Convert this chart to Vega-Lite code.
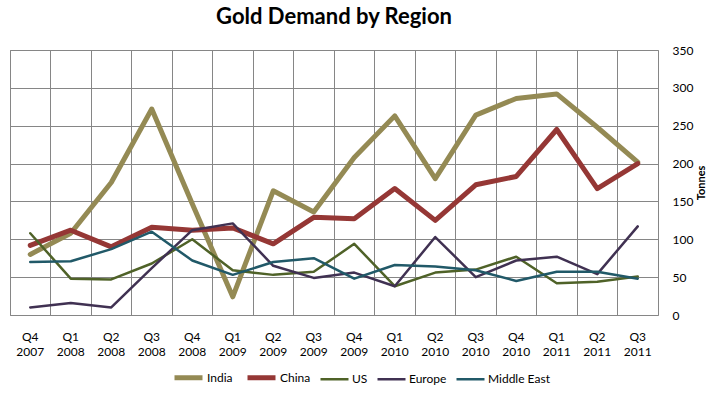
{
  "$schema": "https://vega.github.io/schema/vega-lite/v6.json",
  "width": 648,
  "height": 265,
  "autosize": {"type": "none"},
  "padding": {"left": 10, "top": 50, "right": 61, "bottom": 78},
  "background": "white",
  "title": {"text": "Gold Demand by Region", "font": "Lato", "fontSize": 22, "fontWeight": "bold", "color": "#000000", "anchor": "middle", "offset": 15},
  "config": {
    "font": "Lato",
    "view": {"stroke": "#868686", "strokeWidth": 1}
  },
  "data": {"values": [
    {"q":"Q4 2007","region":"India","v":80},{"q":"Q1 2008","region":"India","v":108},{"q":"Q2 2008","region":"India","v":175},{"q":"Q3 2008","region":"India","v":272},{"q":"Q4 2008","region":"India","v":147},{"q":"Q1 2009","region":"India","v":24},{"q":"Q2 2009","region":"India","v":164},{"q":"Q3 2009","region":"India","v":136},{"q":"Q4 2009","region":"India","v":208},{"q":"Q1 2010","region":"India","v":263},{"q":"Q2 2010","region":"India","v":180},{"q":"Q3 2010","region":"India","v":264},{"q":"Q4 2010","region":"India","v":286},{"q":"Q1 2011","region":"India","v":292},{"q":"Q2 2011","region":"India","v":248},{"q":"Q3 2011","region":"India","v":202},
    {"q":"Q4 2007","region":"China","v":92},{"q":"Q1 2008","region":"China","v":112},{"q":"Q2 2008","region":"China","v":90},{"q":"Q3 2008","region":"China","v":116},{"q":"Q4 2008","region":"China","v":112},{"q":"Q1 2009","region":"China","v":115},{"q":"Q2 2009","region":"China","v":94},{"q":"Q3 2009","region":"China","v":129},{"q":"Q4 2009","region":"China","v":127},{"q":"Q1 2010","region":"China","v":167},{"q":"Q2 2010","region":"China","v":125},{"q":"Q3 2010","region":"China","v":172},{"q":"Q4 2010","region":"China","v":183},{"q":"Q1 2011","region":"China","v":245},{"q":"Q2 2011","region":"China","v":167},{"q":"Q3 2011","region":"China","v":200},
    {"q":"Q4 2007","region":"US","v":108},{"q":"Q1 2008","region":"US","v":48},{"q":"Q2 2008","region":"US","v":47},{"q":"Q3 2008","region":"US","v":68},{"q":"Q4 2008","region":"US","v":100},{"q":"Q1 2009","region":"US","v":59},{"q":"Q2 2009","region":"US","v":53},{"q":"Q3 2009","region":"US","v":57},{"q":"Q4 2009","region":"US","v":94},{"q":"Q1 2010","region":"US","v":38},{"q":"Q2 2010","region":"US","v":56},{"q":"Q3 2010","region":"US","v":60},{"q":"Q4 2010","region":"US","v":77},{"q":"Q1 2011","region":"US","v":42},{"q":"Q2 2011","region":"US","v":44},{"q":"Q3 2011","region":"US","v":51},
    {"q":"Q4 2007","region":"Europe","v":10},{"q":"Q1 2008","region":"Europe","v":16},{"q":"Q2 2008","region":"Europe","v":10},{"q":"Q3 2008","region":"Europe","v":62},{"q":"Q4 2008","region":"Europe","v":112},{"q":"Q1 2009","region":"Europe","v":121},{"q":"Q2 2009","region":"Europe","v":65},{"q":"Q3 2009","region":"Europe","v":49},{"q":"Q4 2009","region":"Europe","v":56},{"q":"Q1 2010","region":"Europe","v":38},{"q":"Q2 2010","region":"Europe","v":103},{"q":"Q3 2010","region":"Europe","v":50},{"q":"Q4 2010","region":"Europe","v":72},{"q":"Q1 2011","region":"Europe","v":77},{"q":"Q2 2011","region":"Europe","v":54},{"q":"Q3 2011","region":"Europe","v":117},
    {"q":"Q4 2007","region":"Middle East","v":70},{"q":"Q1 2008","region":"Middle East","v":71},{"q":"Q2 2008","region":"Middle East","v":87},{"q":"Q3 2008","region":"Middle East","v":110},{"q":"Q4 2008","region":"Middle East","v":72},{"q":"Q1 2009","region":"Middle East","v":53},{"q":"Q2 2009","region":"Middle East","v":70},{"q":"Q3 2009","region":"Middle East","v":75},{"q":"Q4 2009","region":"Middle East","v":48},{"q":"Q1 2010","region":"Middle East","v":66},{"q":"Q2 2010","region":"Middle East","v":64},{"q":"Q3 2010","region":"Middle East","v":59},{"q":"Q4 2010","region":"Middle East","v":45},{"q":"Q1 2011","region":"Middle East","v":57},{"q":"Q2 2011","region":"Middle East","v":57},{"q":"Q3 2011","region":"Middle East","v":48}
  ]},
  "mark": {"type": "line", "strokeJoin": "round", "strokeCap": "round"},
  "encoding": {
    "x": {
      "field": "q", "type": "ordinal", "sort": null, "bandPosition": 0.5,
      "scale": {"type": "band", "paddingInner": 0, "paddingOuter": 0},
      "axis": {
        "title": null, "bandPosition": 0, "labelAngle": 0,
        "labelExpr": "split(datum.label, ' ')", "labelLineHeight": 15.5, "labelPadding": 16,
        "labelFontSize": 12, "labelColor": "#000000", "labelFont": "Lato",
        "grid": true, "gridColor": "#868686", "gridOpacity": 1, "gridWidth": 1,
        "ticks": false, "domain": false
      }
    },
    "y": {
      "field": "v", "type": "quantitative",
      "scale": {"domain": [0, 350], "nice": false},
      "axis": {
        "orient": "right", "title": "Tonnes", "titleAngle": 270, "titleFontSize": 11, "titleFontWeight": "bold",
        "titleFont": "Lato", "titleColor": "#000000", "titlePadding": 14,
        "values": [0, 50, 100, 150, 200, 250, 300, 350],
        "labelFontSize": 12, "labelColor": "#000000", "labelPadding": 14, "labelFont": "Lato",
        "grid": true, "gridColor": "#868686", "gridOpacity": 1, "gridWidth": 1,
        "ticks": false, "domain": false
      }
    },
    "color": {
      "field": "region", "type": "nominal",
      "scale": {"domain": ["India", "China", "US", "Europe", "Middle East"], "range": ["#948A54", "#953735", "#4F6228", "#403152", "#215968"]},
      "legend": {
        "title": null, "orient": "none", "direction": "horizontal", "legendX": 162, "legendY": 311,
        "symbolType": "stroke", "symbolSize": 784, "labelOffset": 2, "columnPadding": 4,
        "labelFontSize": 12, "labelColor": "#000000", "labelFont": "Lato"
      }
    },
    "strokeWidth": {
      "field": "region", "type": "nominal",
      "scale": {"type": "ordinal", "domain": ["India", "China", "US", "Europe", "Middle East"], "range": [5, 5, 2.5, 2.5, 2.5]},
      "legend": {
        "title": null, "orient": "none", "direction": "horizontal", "legendX": 162, "legendY": 311,
        "symbolType": "stroke", "symbolSize": 784, "labelOffset": 2, "columnPadding": 4,
        "labelFontSize": 12, "labelColor": "#000000", "labelFont": "Lato"
      }
    }
  }
}
